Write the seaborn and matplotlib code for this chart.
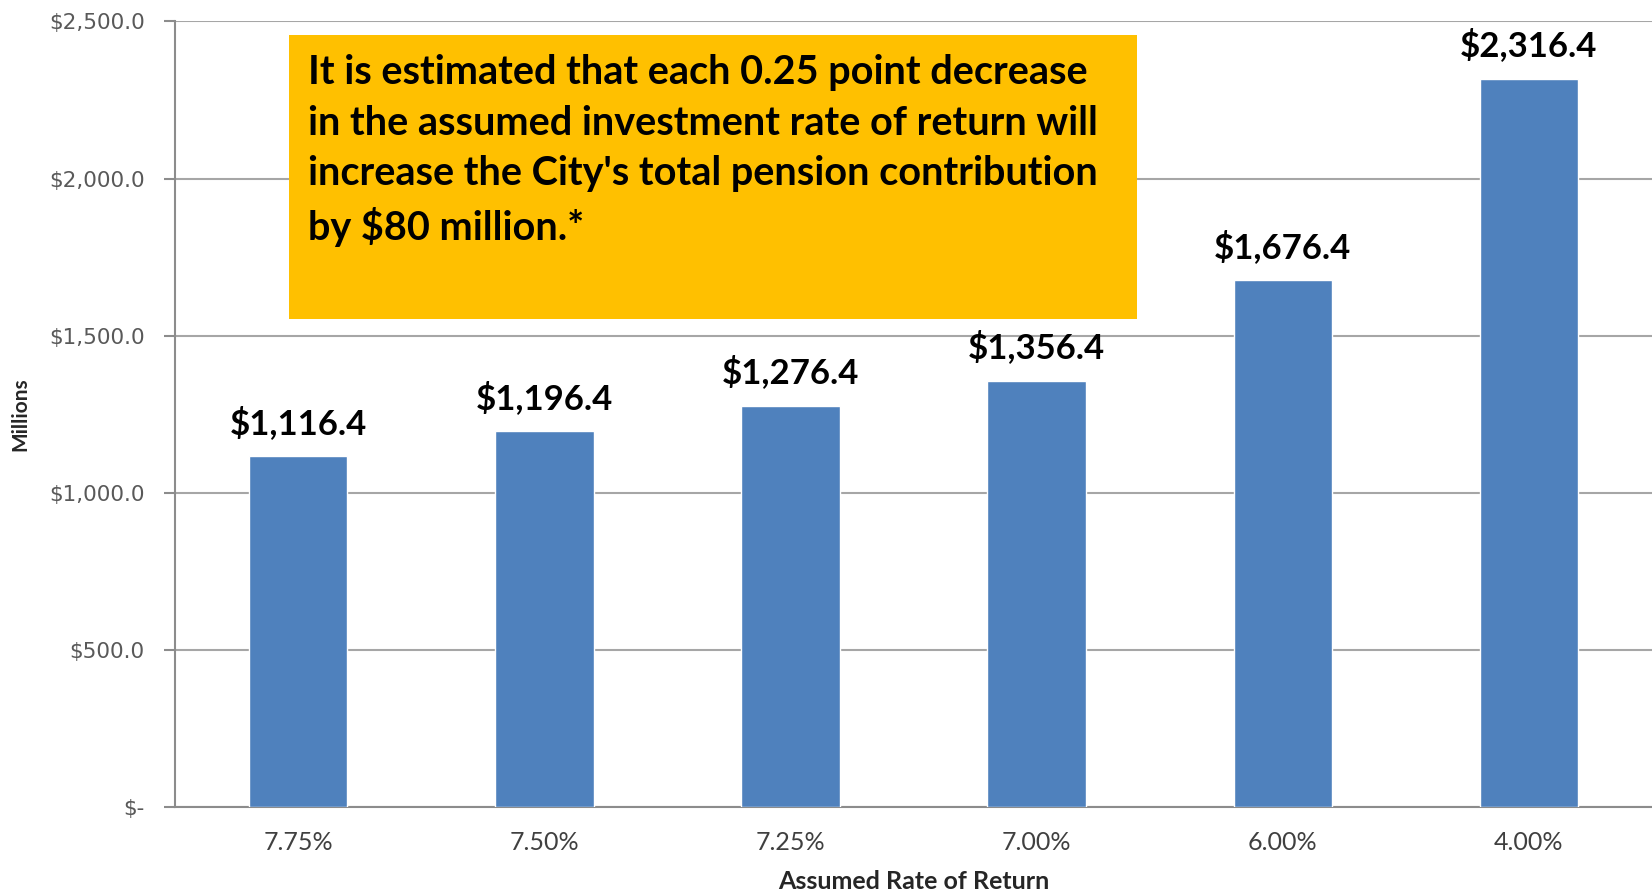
import numpy as np
import matplotlib
matplotlib.use('Agg')
import matplotlib.pyplot as plt
import seaborn as sns
import pandas as pd

rates = ['7.75%', '7.50%', '7.25%', '7.00%', '6.00%', '4.00%']
contrib = [1116.4, 1196.4, 1276.4, 1356.4, 1676.4, 2316.4]
yticks = [0, 500, 1000, 1500, 2000, 2500]
note = ("It is estimated that each 0.25 point decrease\n"
        "in the assumed investment rate of return will\n"
        "increase the City's total pension contribution\n"
        "by $80 million.*")

sns.set_style('white')
plt.rcParams['font.family'] = ['Lato', 'DejaVu Sans']

df = pd.DataFrame({'rate': rates, 'contrib': contrib})

fig = plt.figure(figsize=(16.52, 8.94), dpi=100)
ax = fig.add_axes([0.106, 0.097, 0.894, 0.879])

sns.barplot(data=df, x='rate', y='contrib', color='#4F81BD', saturation=1,
            width=0.4, ax=ax, zorder=3)

ax.set_xlim(-0.5, 5.5)
ax.set_ylim(0, 2500)
ax.set_yticks(yticks)
ax.set_yticklabels(['$-' if v == 0 else '${:,.1f}'.format(v) for v in yticks],
                   family='DejaVu Sans', fontsize=15.5, color='#595959')
ax.yaxis.grid(True, color='#A6A6A6', linewidth=1.5, zorder=0)
ax.set_axisbelow(True)

# category boundary ticks on x
ax.set_xticks(np.arange(-0.5, 6.0, 1.0), minor=True)
ax.tick_params(axis='x', which='minor', length=10, width=1.5, color='#8C8C8C', direction='out')
ax.tick_params(axis='x', which='major', length=0, pad=17, labelsize=18, labelcolor='#404040')
ax.tick_params(axis='y', length=8, width=1.5, color='#8C8C8C', direction='out', pad=14, left=True)

for s in ['top', 'right']:
    ax.spines[s].set_visible(False)
for s in ['left', 'bottom']:
    ax.spines[s].set_color('#8C8C8C')
    ax.spines[s].set_linewidth(1.5)

ax.bar_label(ax.containers[0], labels=['${:,.1f}'.format(v) for v in contrib],
             padding=12, fontsize=25, fontweight='bold', color='black')

ax.set_ylabel('Millions', fontsize=15, fontweight='bold')
ax.yaxis.set_label_coords(-0.098, 0.5)
ax.set_xlabel('Assumed Rate of Return', fontsize=18, fontweight='bold')
ax.xaxis.set_label_coords(0.5, -0.08)

ax.add_patch(plt.Rectangle((0.077, 0.621), 0.574, 0.362, transform=ax.transAxes,
                           facecolor='#FFC000', edgecolor='none', zorder=5))
ax.text(0.090, 0.958, note, transform=ax.transAxes, ha='left', va='top',
        fontsize=28.5, fontweight='bold', color='black', linespacing=1.45, zorder=6)

fig.savefig('out.png', dpi=100)
